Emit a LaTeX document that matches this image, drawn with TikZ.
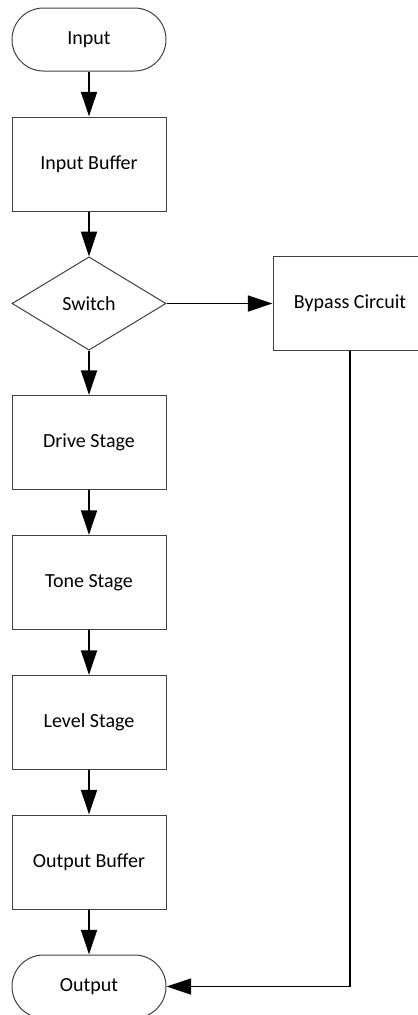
\documentclass[tikz,border=0pt]{standalone}
\usepackage{fontspec}
\setmainfont{Carlito}
\usetikzlibrary{shapes.geometric,arrows.meta}

\tikzset{
  block/.style={draw=black!75, line width=0.75pt, rectangle, minimum width=115.5pt, minimum height=70.5pt, inner sep=0pt},
  terminal/.style={draw=black!75, line width=0.75pt, rectangle, rounded corners=23.6pt, minimum width=115.5pt, minimum height=47.25pt, inner sep=0pt},
  decision/.style={draw=black!75, line width=0.75pt, diamond, minimum width=115.5pt, minimum height=70pt, inner sep=0pt},
  flow/.style={line width=1.25pt, -{Triangle[length=18.5pt, width=12pt]}}
}

\begin{document}
\begin{tikzpicture}[x=0.75pt,y=0.75pt,yscale=-1,xscale=1, font=\fontsize{15}{18}\selectfont]
\clip (0,0) rectangle (418,1015);

%Shapes
\node [terminal] (input) at (89,39.5) {Input};
\node [block] (inbuf) at (89,164) {Input Buffer};
\node [decision] (switch) at (89,303.5) {Switch};
\node [block] (bypass) at (350,303.5) {Bypass Circuit};
\node [block] (drive) at (89,442.5) {Drive Stage};
\node [block] (tone) at (89,582.5) {Tone Stage};
\node [block] (level) at (89,722.5) {Level Stage};
\node [block] (outbuf) at (89,862) {Output Buffer};
\node [terminal] (output) at (89,986.5) {Output};

%Connectors
\draw [flow] (input) -- (inbuf);
\draw [flow] (inbuf) -- (switch);
\draw [flow] (switch) -- (bypass);
\draw [flow] (switch) -- (drive);
\draw [flow] (drive) -- (tone);
\draw [flow] (tone) -- (level);
\draw [flow] (level) -- (outbuf);
\draw [flow] (outbuf) -- (output);
\draw [flow] (bypass.south) |- (output.east);

\end{tikzpicture}
\end{document}
